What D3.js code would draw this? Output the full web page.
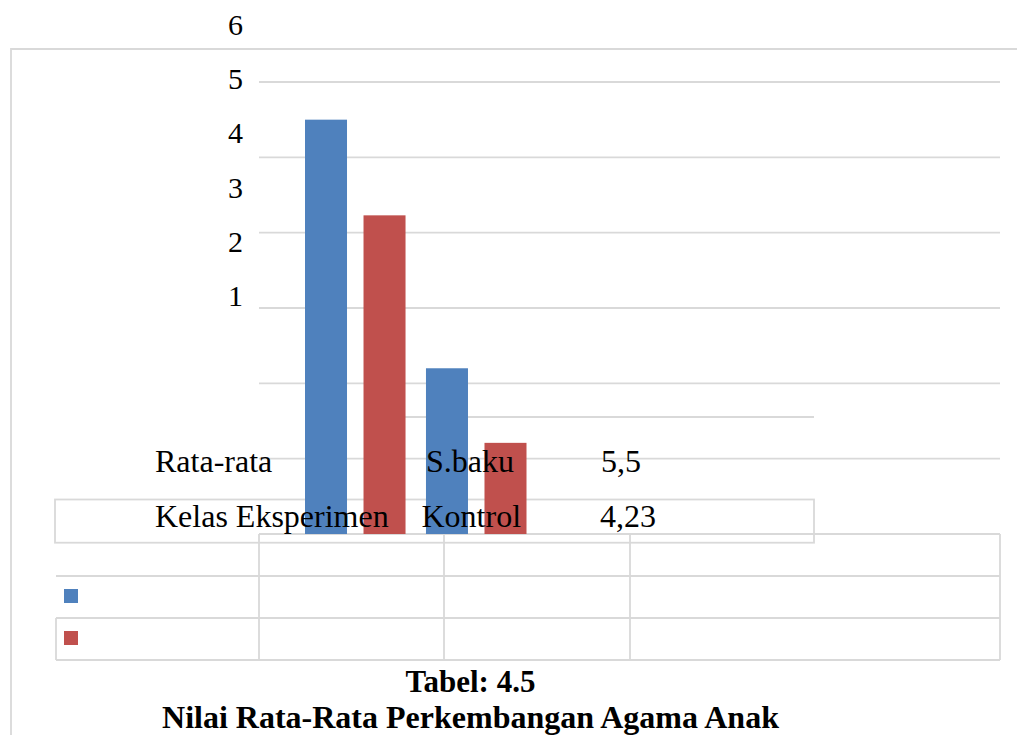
<!DOCTYPE html>
<html>
<head>
<meta charset="utf-8">
<script src="https://cdn.jsdelivr.net/npm/d3@7/dist/d3.min.js"></script>
<style>
  html, body { margin: 0; padding: 0; background: #fff; }
  svg { display: block; }
  text { font-family: "Liberation Serif", "Times New Roman", serif; fill: #000; }
</style>
</head>
<body>
<svg id="chart" width="1018" height="735"></svg>
<script>
// Chart data
const categories = ["Rata-rata", "S.baku"];
const seriesNames = ["Kelas Eksperimen", "Kontrol"];
const eksperimenValues = [5.5, 2.2];
const kontrolValues = [4.23, 1.21];
const seriesColors = ["#4F81BD", "#C0504D"];
const yTickValues = [1, 2, 3, 4, 5, 6];
const titleLines = ["Tabel: 4.5", "Nilai Rata-Rata Perkembangan Agama Anak"];

const seriesValues = [eksperimenValues, kontrolValues];
const gridColor = "#d9d9d9";
const svg = d3.select("#chart");

// Scales
const plotLeft = 259, plotRight = 1000;
const y = d3.scaleLinear().domain([0, 6]).range([534, 82]);
const yLabel = d3.scaleLinear().domain([0, 6]).range([350, 25]);
const x0 = d3.scaleBand().domain(categories).range([305, 526.5]).paddingInner(0.169).paddingOuter(0);
const x1 = d3.scaleBand().domain(seriesNames).range([0, x0.bandwidth()]).paddingInner(0.282).paddingOuter(0);

// Outer chart frame (left and top edges)
svg.append("path")
  .attr("d", "M11,735 L11,49 L1017,49")
  .attr("fill", "none").attr("stroke", gridColor).attr("stroke-width", 1.8);

// Horizontal gridlines
svg.append("g").selectAll("line").data(yTickValues).join("line")
  .attr("x1", plotLeft).attr("x2", plotRight)
  .attr("y1", d => y(d)).attr("y2", d => y(d))
  .attr("stroke", gridColor).attr("stroke-width", 1.8);

// Embedded text box lines
const box = svg.append("g").attr("fill", "none").attr("stroke", gridColor).attr("stroke-width", 1.8);
box.append("rect").attr("x", 55).attr("y", 499.5).attr("width", 759).attr("height", 43.2);
box.append("line").attr("x1", 404).attr("x2", 814).attr("y1", 417).attr("y2", 417);

// Data table grid under the plot
const tbl = svg.append("g").attr("fill", "none").attr("stroke", gridColor).attr("stroke-width", 1.8);
tbl.append("line").attr("x1", plotLeft).attr("x2", plotRight).attr("y1", y(0)).attr("y2", y(0));
[576, 618, 660].forEach(ry => tbl.append("line").attr("x1", 56).attr("x2", plotRight).attr("y1", ry).attr("y2", ry));
[plotLeft, 444, 630, plotRight].forEach(cx => tbl.append("line").attr("x1", cx).attr("x2", cx).attr("y1", y(0)).attr("y2", 660));
tbl.append("line").attr("x1", 56).attr("x2", 56).attr("y1", 618).attr("y2", 660);

// Bars
const barData = categories.flatMap((c, ci) => seriesNames.map((s, si) => ({
  category: c, series: s, value: seriesValues[si][ci], color: seriesColors[si]
})));
svg.append("g").selectAll("rect").data(barData).join("rect")
  .attr("x", d => x0(d.category) + x1(d.series))
  .attr("y", d => y(d.value))
  .attr("width", x1.bandwidth())
  .attr("height", d => y(0) - y(d.value))
  .attr("fill", d => d.color);

// Value axis labels
const yAxis = svg.append("g")
  .attr("transform", "translate(235.5,0)")
  .call(d3.axisLeft(yLabel).tickValues(yTickValues).tickSize(0).tickPadding(0).tickFormat(d3.format("d")));
yAxis.select(".domain").remove();
yAxis.attr("font-family", null).attr("font-size", null);
yAxis.selectAll("text")
  .attr("x", 0)
  .attr("text-anchor", "middle")
  .style("font-size", "30px");

// Embedded table text
const fmtComma = v => String(v).replace(".", ",");
const rows = [
  [categories[0], categories[1], fmtComma(eksperimenValues[0])],
  [seriesNames[0], seriesNames[1], fmtComma(kontrolValues[0])]
];
const rowBaselines = [472, 527];
const colX = [[155, 426, 601], [155, 421.5, 600]];
rows.forEach((row, ri) => {
  svg.append("g").selectAll("text").data(row).join("text")
    .attr("x", (d, i) => colX[ri][i])
    .attr("y", rowBaselines[ri])
    .style("font-size", "32px")
    .text(d => d);
});

// Legend keys in the data table
const legendRow = d3.scaleBand().domain(seriesNames).range([576, 660]);
svg.append("g").selectAll("rect").data(seriesNames).join("rect")
  .attr("x", 64)
  .attr("y", d => legendRow(d) + legendRow.bandwidth() / 2 - 8)
  .attr("width", 14).attr("height", 14)
  .attr("fill", (d, i) => seriesColors[i]);

// Caption
svg.append("g").selectAll("text").data(titleLines).join("text")
  .attr("x", 470.5)
  .attr("y", (d, i) => [692, 728][i])
  .attr("text-anchor", "middle")
  .style("font-size", (d, i) => i === 0 ? "31px" : "32px")
  .style("font-weight", "bold")
  .text(d => d);
</script>
</body>
</html>
